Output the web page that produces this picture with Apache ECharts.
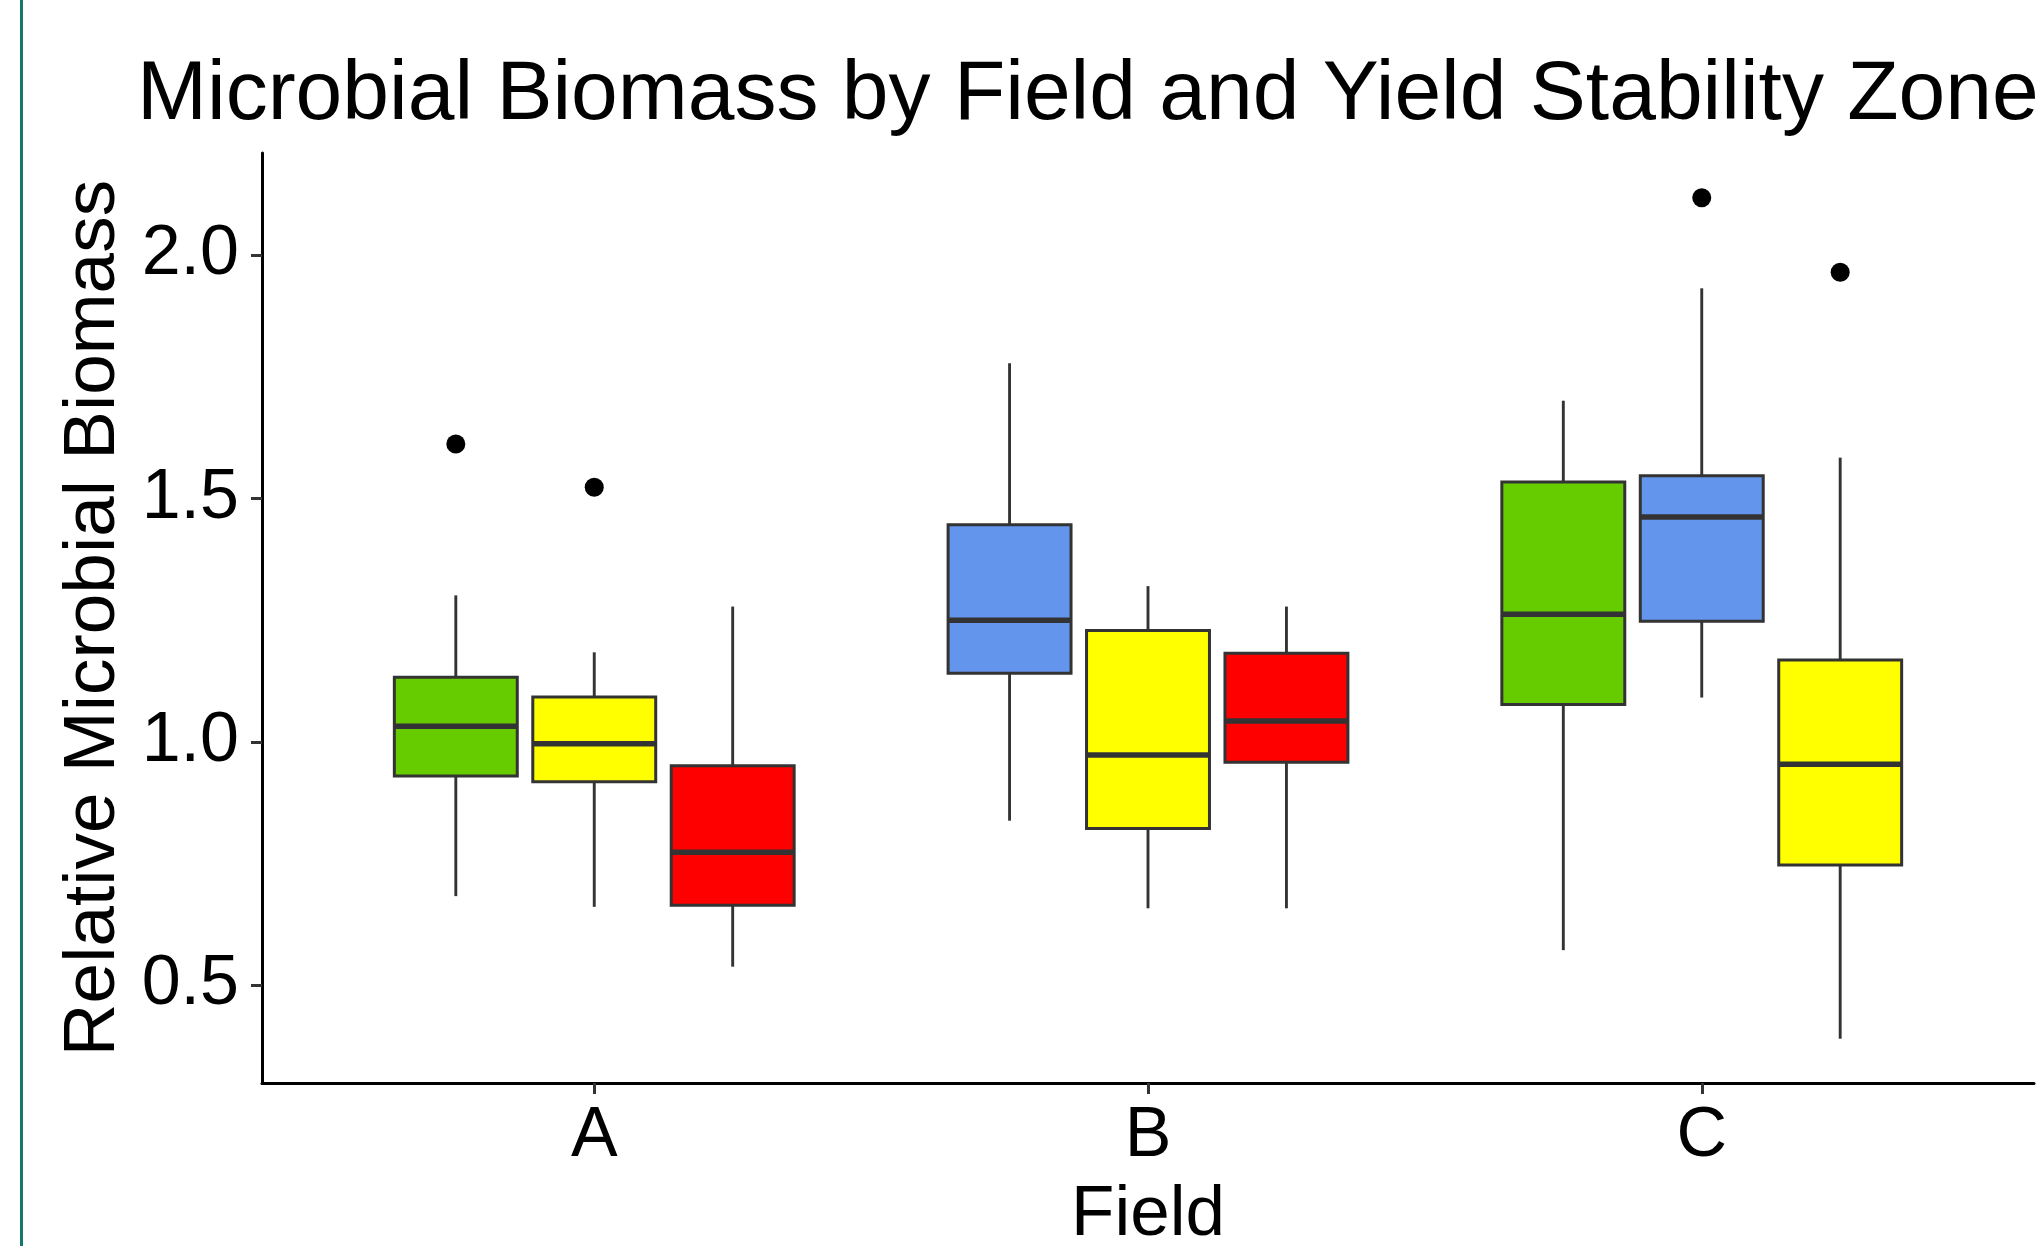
<!DOCTYPE html>
<html>
<head>
<meta charset="utf-8">
<script src="https://cdn.jsdelivr.net/npm/echarts@6/dist/echarts.min.js"></script>
<style>
  html, body { margin: 0; padding: 0; background: #ffffff; }
  #chart { width: 2043px; height: 1246px; }
</style>
</head>
<body>
<div id="chart"></div>
<script>
// ---- Data ----
const fields = ['A', 'B', 'C'];
const zones = ['Green', 'Blue', 'Yellow', 'Red'];
const yTicks = [0.5, 1.0, 1.5, 2.0];

// box statistics per field: [min, Q1, median, Q3, max]; null = zone absent in field
const greenStats  = [[0.683, 0.930, 1.032, 1.133, 1.301], null, [0.572, 1.077, 1.262, 1.534, 1.701]];
const blueStats   = [null, [0.838, 1.141, 1.250, 1.446, 1.778], [1.091, 1.248, 1.462, 1.547, 1.932]];
const yellowStats = [[0.661, 0.918, 0.996, 1.092, 1.184], [0.658, 0.822, 0.973, 1.229, 1.320], [0.390, 0.747, 0.954, 1.168, 1.584]];
const redStats    = [[0.538, 0.664, 0.773, 0.951, 1.278], [0.658, 0.958, 1.043, 1.182, 1.278], null];

// outliers per field
const greenOutliers  = [[1.612], [], []];
const blueOutliers   = [[], [], [2.118]];
const yellowOutliers = [[1.523], [], [1.965]];
const redOutliers    = [[], [], []];

// ---- Styling / layout constants ----
const zoneColors = ['#66CC00', '#6495ED', '#FFFF00', '#FF0000'];
const DODGE = 0.75;      // total dodge width per field (axis units)
const BOX_W = 0.222;     // box width (axis units)
const FONT = 'Liberation Sans, Arial, sans-serif';

const allStats = [greenStats, blueStats, yellowStats, redStats];
const allOutliers = [greenOutliers, blueOutliers, yellowOutliers, redOutliers];

// compute dodge offset for each zone within each field
function offsetFor(zoneIdx, fieldIdx) {
  const present = [];
  allStats.forEach((s, z) => { if (s[fieldIdx]) present.push(z); });
  const n = present.length;
  const slot = present.indexOf(zoneIdx);
  const w = DODGE / n;
  return (slot - (n - 1) / 2) * w;
}

const series = [];
zones.forEach((zone, z) => {
  const boxData = [];
  const outData = [];
  allStats[z].forEach((st, f) => {
    if (!st) return;
    const off = offsetFor(z, f);
    boxData.push([f + 1, off].concat(st));
    allOutliers[z][f].forEach(v => outData.push([f + 1 + off, v]));
  });
  series.push({
    name: zone,
    type: 'custom',
    itemStyle: { color: zoneColors[z] },
    encode: { x: 0, y: [2, 3, 4, 5, 6] },
    data: boxData,
    renderItem: function (params, api) {
      const xc = api.value(0) + api.value(1);
      const half = BOX_W / 2;
      const pMin = api.coord([xc, api.value(2)]);
      const pQ1 = api.coord([xc, api.value(3)]);
      const pMed = api.coord([xc, api.value(4)]);
      const pQ3 = api.coord([xc, api.value(5)]);
      const pMax = api.coord([xc, api.value(6)]);
      const pL = api.coord([xc - half, api.value(4)]);
      const pR = api.coord([xc + half, api.value(4)]);
      const ls = { stroke: '#333333', lineWidth: 2.9 };
      return {
        type: 'group',
        children: [
          { type: 'line', shape: { x1: pQ3[0], y1: pQ3[1], x2: pMax[0], y2: pMax[1] }, style: ls },
          { type: 'line', shape: { x1: pQ1[0], y1: pQ1[1], x2: pMin[0], y2: pMin[1] }, style: ls },
          { type: 'rect', shape: { x: pL[0], y: pQ3[1], width: pR[0] - pL[0], height: pQ1[1] - pQ3[1] },
            style: { fill: api.visual('color'), stroke: '#333333', lineWidth: 3 } },
          { type: 'line', shape: { x1: pL[0], y1: pMed[1], x2: pR[0], y2: pMed[1] },
            style: { stroke: '#333333', lineWidth: 5.5 } }
        ]
      };
    }
  });
  if (outData.length) {
    series.push({
      name: zone + ' outliers',
      type: 'scatter',
      symbol: 'circle',
      symbolSize: 19,
      itemStyle: { color: '#000000', opacity: 1 },
      data: outData
    });
  }
});

const chart = echarts.init(document.getElementById('chart'), null, { renderer: 'canvas' });
chart.setOption({
  backgroundColor: '#ffffff',
  animation: false,
  title: {
    text: 'Microbial Biomass by Field and Yield Stability Zone',
    left: 137,
    top: 54,
    padding: 0,
    textStyle: { fontFamily: FONT, fontSize: 84, fontWeight: 'normal', color: '#000000' }
  },
  graphic: [{
    type: 'rect',
    shape: { x: 20, y: 0, width: 3, height: 1246 },
    style: { fill: '#127A6C' },
    silent: true
  }],
  grid: { left: 262, right: 9, top: 153, bottom: 163, outerBoundsMode: 'none', containLabel: false },
  xAxis: {
    type: 'value',
    min: 0.4,
    max: 3.6,
    name: 'Field',
    nameLocation: 'middle',
    nameGap: 97,
    nameTextStyle: { fontFamily: FONT, fontSize: 71, color: '#000000' },
    axisLine: { show: true, onZero: false, lineStyle: { color: '#000000', width: 3 } },
    axisTick: { show: true, customValues: [1, 2, 3], length: 11, lineStyle: { color: '#333333', width: 3 } },
    axisLabel: {
      show: true,
      customValues: [1, 2, 3],
      formatter: v => fields[Math.round(v) - 1],
      margin: 19,
      fontFamily: FONT, fontSize: 70, color: '#000000'
    },
    splitLine: { show: false }
  },
  yAxis: {
    type: 'value',
    min: 0.299,
    max: 2.21,
    name: 'Relative Microbial Biomass',
    nameLocation: 'middle',
    nameGap: 124,
    nameTextStyle: { fontFamily: FONT, fontSize: 73, color: '#000000' },
    axisLine: { show: true, onZero: false, lineStyle: { color: '#000000', width: 3 } },
    axisTick: { show: true, customValues: yTicks, length: 11, lineStyle: { color: '#333333', width: 3 } },
    axisLabel: {
      show: true,
      customValues: yTicks,
      formatter: v => v.toFixed(1),
      margin: 23,
      fontFamily: FONT, fontSize: 70, color: '#000000'
    },
    splitLine: { show: false }
  },
  series: series
});
</script>
</body>
</html>
